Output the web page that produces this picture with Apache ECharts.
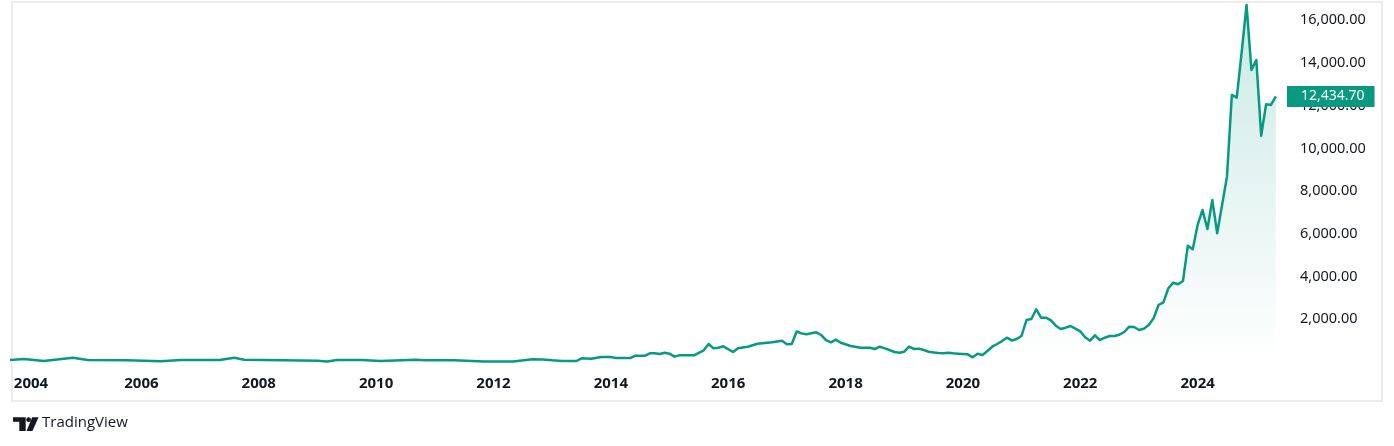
<!DOCTYPE html>
<html>
<head>
<meta charset="utf-8">
<script src="https://cdn.jsdelivr.net/npm/echarts@6/dist/echarts.min.js"></script>
<style>
html,body{margin:0;padding:0;background:#fff;}
#chart{width:1394px;height:446px;}
</style>
</head>
<body>
<div id="chart"></div>
<script>
// ---- data (monthly closes) ----
const dates = [
 '2003-10','2004-01','2004-05','2004-11','2005-02','2005-10','2006-05','2006-09','2007-05','2007-08',
 '2007-10','2008-06','2009-01','2009-03','2009-05','2009-10','2010-02','2010-09','2010-11','2011-05',
 '2011-11','2012-05','2012-09','2012-11','2013-01','2013-03','2013-06','2013-07','2013-09','2013-11',
 '2014-01','2014-02','2014-05','2014-06','2014-08','2014-09','2014-10','2014-11','2014-12','2015-01',
 '2015-02','2015-03','2015-06','2015-08','2015-09','2015-10','2015-11','2015-12','2016-02','2016-03',
 '2016-05','2016-07','2016-10','2016-12','2017-01','2017-02','2017-03','2017-04','2017-05','2017-06',
 '2017-07','2017-08','2017-09','2017-10','2017-11','2017-12','2018-01','2018-02','2018-03','2018-04',
 '2018-05','2018-06','2018-07','2018-08','2018-09','2018-10','2018-11','2018-12','2019-01','2019-02',
 '2019-03','2019-04','2019-05','2019-06','2019-07','2019-08','2019-09','2019-10','2019-11','2019-12',
 '2020-01','2020-02','2020-03','2020-04','2020-05','2020-06','2020-07','2020-08','2020-09','2020-10',
 '2020-11','2020-12','2021-01','2021-02','2021-03','2021-04','2021-05','2021-06','2021-07','2021-08',
 '2021-09','2021-10','2021-11','2021-12','2022-01','2022-02','2022-03','2022-04','2022-05','2022-06',
 '2022-07','2022-08','2022-09','2022-10','2022-11','2022-12','2023-01','2023-02','2023-03','2023-04',
 '2023-05','2023-06','2023-07','2023-08','2023-09','2023-10','2023-11','2023-12','2024-01','2024-02',
 '2024-03','2024-04','2024-05','2024-06','2024-07','2024-08','2024-09','2024-10','2024-11','2024-12',
 '2025-01','2025-02','2025-03','2025-04','2025-05'
];
const values = [
 90,140,50,200,95,80,35,95,95,200,
 110,80,60,20,94,94,47,108,78,78,
 20,20,125,120,78,47,47,173,155,234,
 234,187,187,295,295,407,407,375,437,390,
 250,312,312,547,843,641,670,735,468,641,
 717,857,922,998,829,843,1430,1340,1297,1344,
 1391,1265,1030,922,1045,904,829,749,717,670,
 670,670,609,717,640,560,468,436,482,717,
 609,625,560,482,450,420,407,436,407,390,
 375,360,218,390,328,515,717,843,980,1140,
 1010,1080,1232,1967,2014,2468,2075,2075,1953,1700,
 1546,1607,1686,1560,1438,1157,998,1251,1030,1138,
 1218,1218,1279,1405,1655,1640,1499,1560,1733,2047,
 2670,2796,3452,3714,3640,3794,5448,5279,6417,7120,
 6230,7588,6028,7350,8680,12506,12380,14500,16722,13677,
 14146,10600,12071,12038,12434.70
];
const yearTicks = [2004,2006,2008,2010,2012,2014,2016,2018,2020,2022,2024];
const priceTicks = [2000,4000,6000,8000,10000,12000,14000,16000];
const lastPrice = values[values.length - 1];

// ---- build ----
function toYear(s){ const p = s.split('-'); return +p[0] + (+p[1] - 1) / 12; }
const seriesData = dates.map((d, i) => [toYear(d), values[i]]);
const fmtPrice = v => v.toLocaleString('en-US', {minimumFractionDigits: 2, maximumFractionDigits: 2});

const GREEN = '#089981';
const TEXT = '#131722';
const FONT = '"Noto Sans", "DejaVu Sans", sans-serif';
const chart = echarts.init(document.getElementById('chart'), null, {renderer: 'canvas'});
chart.setOption({
  animation: false,
  backgroundColor: '#ffffff',
  grid: {left: 12, right: 107, top: 2, bottom: 84, containLabel: false},
  xAxis: {
    type: 'value',
    min: 2003.795,
    max: 2025.523,
    axisLine: {show: false},
    axisTick: {show: false},
    splitLine: {show: false},
    axisLabel: {
      customValues: yearTicks,
      margin: 14,
      color: TEXT,
      fontFamily: FONT,
      fontWeight: 'bold',
      fontSize: 15,
      formatter: v => v === yearTicks[0] ? '{f|' + v + '}' : String(v),
      rich: {f: {padding: [0, 0, 0, 14], color: TEXT, fontFamily: FONT, fontWeight: 'bold', fontSize: 15}}
    }
  },
  yAxis: {
    type: 'value',
    position: 'right',
    min: 0,
    max: 16860,
    axisLine: {show: false},
    axisTick: {show: false},
    splitLine: {show: false},
    axisLabel: {
      customValues: priceTicks,
      margin: 13,
      color: TEXT,
      fontFamily: FONT,
      fontSize: 14.5,
      formatter: v => fmtPrice(v)
    }
  },
  series: [{
    type: 'line',
    data: seriesData,
    showSymbol: false,
    symbol: 'none',
    silent: true,
    lineStyle: {color: GREEN, width: 2.5, join: 'round'},
    itemStyle: {color: GREEN},
    areaStyle: {
      color: new echarts.graphic.LinearGradient(0, 0, 0, 1, [
        {offset: 0, color: 'rgba(8,153,129,0.30)'},
        {offset: 1, color: 'rgba(8,153,129,0.0)'}
      ])
    },
    markLine: {
      silent: true,
      symbol: ['none', 'none'],
      lineStyle: {color: 'rgba(0,0,0,0)', width: 0, type: 'solid'},
      label: {
        show: true,
        position: 'end',
        distance: 0,
        opacity: 1,
        formatter: () => fmtPrice(lastPrice),
        backgroundColor: GREEN,
        color: '#ffffff',
        fontFamily: FONT,
        fontSize: 14,
        lineHeight: 15,
        padding: [3, 10, 3, 14]
      },
      data: [{yAxis: lastPrice}]
    }
  }],
  graphic: [
    {type: 'rect', z: -1, silent: true,
     shape: {x: 12, y: 2, width: 1370, height: 399},
     style: {fill: 'none', stroke: '#ececec', lineWidth: 2}},
    {type: 'group', silent: true, children: [
      {type: 'polygon', shape: {points: [[13,417.3],[25.7,417.3],[25.7,431],[19.3,431],[19.3,421.8],[13,421.8]]}, style: {fill: TEXT}},
      {type: 'circle', shape: {cx: 28.6, cy: 419.7, r: 2.4}, style: {fill: TEXT}},
      {type: 'polygon', shape: {points: [[32.2,417.3],[38.6,417.3],[32.4,431],[26.6,431]]}, style: {fill: TEXT}},
      {type: 'text', x: 42, y: 430.5, style: {text: 'TradingView', fill: TEXT, font: '15px "Open Sans"', textVerticalAlign: 'bottom', verticalAlign: 'bottom'}}
    ]}
  ]
});
</script>
</body>
</html>
